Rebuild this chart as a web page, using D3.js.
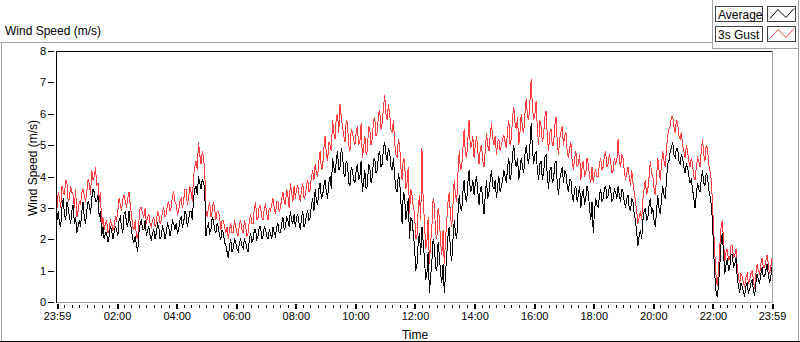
<!DOCTYPE html>
<html><head><meta charset="utf-8">
<script src="https://cdn.jsdelivr.net/npm/d3@7/dist/d3.min.js"></script>
<style>
html,body{margin:0;padding:0;background:#fff;}
svg{display:block;font-family:"Liberation Sans",Arial,sans-serif;}
</style></head>
<body><svg id="c" width="800" height="342"></svg>
<script>
// ---- data (2.5-minute samples from 23:59 to 23:59, one row per hour) ----
const seriesNames = ["Average", "3s Gust"];
const avgValues = [
 2.6,2.9,2.5,2.4,3.0,3.3,2.8,2.6,3.2,3.0,2.7,2.5,2.9,3.1,2.5,2.7,2.2,2.4,2.6,2.4,2.9,3.2,2.7,2.5,
 2.9,3.2,3.1,2.8,3.3,3.6,3.5,3.2,3.2,3.4,2.7,2.9,2.1,2.4,2.0,2.2,2.2,1.9,2.1,2.4,2.3,2.0,2.2,2.4,
 2.3,2.1,2.6,2.7,2.4,2.2,2.8,2.9,2.5,2.4,2.9,2.5,2.3,2.0,1.9,2.1,1.8,1.6,2.2,2.5,2.6,2.3,2.3,2.6,
 2.1,2.3,2.4,2.1,2.0,2.2,2.3,2.0,2.2,2.5,2.4,2.0,2.1,2.4,2.3,2.0,2.2,2.5,2.4,2.1,2.3,2.6,2.5,2.3,
 2.5,2.2,2.3,2.6,2.7,2.4,2.5,2.9,2.8,2.4,2.6,2.9,2.9,2.6,3.3,3.6,3.7,3.4,4.0,3.8,3.6,3.9,3.8,3.6,
 2.1,2.4,2.5,2.2,2.3,2.7,2.6,2.3,2.2,2.5,2.4,2.1,2.0,2.3,2.2,1.9,1.8,1.6,1.4,1.8,2.0,1.6,1.7,2.0,
 1.9,1.7,1.6,1.9,2.0,1.8,1.7,2.0,1.9,1.7,1.6,2.0,2.2,1.9,2.0,2.3,2.3,2.0,2.1,2.4,2.4,2.0,2.1,2.4,
 2.3,2.1,2.0,2.3,2.2,2.0,2.4,2.2,2.1,2.4,2.5,2.2,2.2,2.5,2.7,2.3,2.4,2.7,2.6,2.4,2.9,2.6,2.5,2.8,
 2.4,2.7,2.8,2.5,2.3,2.7,2.9,2.4,2.5,2.8,2.9,2.6,2.7,3.1,3.3,2.9,3.6,3.2,3.1,3.6,3.8,3.3,3.4,3.7,
 3.9,3.5,3.3,3.8,4.0,3.6,4.6,4.3,4.1,4.5,4.8,4.2,4.3,4.9,4.7,4.1,4.0,4.5,4.4,3.8,3.7,4.3,4.2,3.9,
 3.8,4.2,4.4,3.9,4.0,4.5,3.5,3.8,4.2,3.6,3.7,4.4,4.3,3.8,4.0,4.5,4.6,4.1,4.2,4.7,4.8,4.3,4.4,4.9,
 5.1,4.7,4.5,4.9,4.8,4.3,4.2,4.6,4.0,3.6,3.5,4.1,3.9,3.2,2.5,3.5,3.4,2.6,2.9,3.3,2.0,2.7,2.6,2.2,
 1.8,1.0,1.2,1.9,2.2,1.5,2.4,1.9,1.4,0.7,0.9,1.6,0.3,0.8,1.3,2.0,1.8,1.1,1.0,1.9,1.5,0.9,0.6,1.2,
 0.3,0.9,1.5,2.1,2.4,1.6,1.3,2.0,2.6,2.2,2.0,2.8,3.4,3.0,2.9,3.5,3.9,3.3,3.2,3.8,4.2,3.5,3.6,3.9,
 3.4,3.8,4.0,3.5,3.1,3.6,3.7,3.2,2.8,3.4,3.9,3.3,3.5,3.9,4.2,3.7,3.6,3.9,3.3,3.7,4.0,3.5,3.7,3.9,
 4.2,4.0,3.8,4.3,4.6,3.9,4.1,4.7,5.0,4.5,4.3,4.6,3.9,4.2,4.6,4.3,4.1,4.7,5.0,4.6,4.4,5.0,5.7,4.9,
 4.4,4.7,4.8,4.2,3.9,4.4,4.5,3.9,4.1,4.6,4.7,4.0,3.6,4.2,4.3,3.8,3.9,4.4,4.5,3.8,3.4,3.9,4.1,4.3,
 3.8,4.2,4.1,3.7,3.5,3.9,3.9,3.4,3.2,3.6,3.7,3.2,3.4,3.7,3.0,3.4,3.6,3.1,3.3,3.7,3.5,3.0,2.6,3.2,
 2.2,2.9,3.3,3.1,3.0,3.4,3.6,3.2,3.3,3.6,3.7,3.3,3.4,3.7,3.6,3.2,3.3,3.6,3.5,3.3,3.7,3.4,3.2,3.6,
 3.5,3.2,3.0,3.3,3.4,3.0,2.9,3.3,3.2,2.8,2.6,2.2,1.8,2.1,2.3,2.0,2.6,2.9,3.0,2.6,2.7,3.1,3.3,2.8,
 3.0,2.6,2.4,2.9,3.4,3.0,2.8,3.3,3.7,3.4,3.3,3.9,4.4,4.5,4.8,4.9,5.1,4.7,4.6,4.9,4.9,4.5,4.4,4.7,
 4.6,4.3,4.1,4.4,4.3,4.0,3.8,3.9,3.6,3.3,3.0,3.4,3.8,3.6,3.5,3.9,4.2,3.8,3.7,4.1,4.0,3.6,3.4,3.1,
 2.6,1.6,0.8,0.3,0.15,0.6,1.2,1.9,2.2,1.5,0.9,1.2,1.4,1.0,1.1,1.5,1.5,1.1,1.2,1.4,0.8,0.5,0.3,0.6,
 0.5,0.3,0.2,0.5,0.6,0.3,0.4,0.6,0.7,0.4,0.2,0.6,0.9,0.7,0.6,0.9,1.1,0.8,0.8,1.0,1.2,0.9,0.6,0.8,
 1.1
];
const gustValues = [
 3.0,3.5,3.3,3.0,3.7,3.5,3.4,3.9,3.8,3.2,3.3,3.7,3.5,3.4,3.0,3.6,2.7,2.9,3.2,3.1,3.5,3.6,3.4,3.2,
 3.5,3.9,3.8,3.4,4.2,3.9,4.0,4.3,3.7,3.8,3.2,3.5,2.4,2.7,2.3,2.5,2.6,2.2,2.3,2.6,2.5,2.3,2.4,2.7,
 2.6,2.9,3.3,3.1,2.9,3.3,3.4,3.2,3.0,3.3,3.5,3.1,2.8,2.4,2.3,2.6,2.1,2.0,2.6,3.0,3.0,2.8,2.7,3.0,
 2.5,2.7,2.8,2.5,2.4,2.6,2.7,2.4,2.5,2.9,2.8,2.5,2.6,2.9,3.0,2.7,2.8,3.1,3.2,2.9,3.0,3.4,3.5,3.2,
 3.1,2.8,2.9,3.2,3.3,3.0,3.2,3.6,3.6,3.1,3.3,3.7,3.5,3.2,4.0,4.3,4.5,4.2,5.1,4.7,4.4,4.8,4.6,4.2,
 2.9,2.7,3.0,3.2,2.7,2.9,3.2,3.0,2.6,2.9,2.9,2.7,2.3,2.6,2.6,2.4,2.2,2.4,2.0,2.3,2.5,2.2,2.2,2.6,
 2.4,2.2,2.1,2.5,2.6,2.3,2.2,2.6,2.4,2.1,2.2,2.6,2.8,2.5,2.5,3.0,3.2,2.6,2.7,3.1,3.0,2.7,2.6,3.0,
 3.1,2.8,2.6,3.0,2.9,3.1,3.3,3.0,2.8,3.2,3.2,2.9,3.0,3.3,3.5,3.2,3.1,3.6,3.4,3.0,3.8,3.5,3.2,3.7,
 3.3,3.6,3.7,3.4,3.2,3.6,3.8,3.3,3.4,3.7,3.9,3.5,3.6,4.0,4.2,3.9,4.4,4.1,4.0,4.5,4.8,4.2,4.3,4.9,
 5.3,4.7,4.5,5.1,5.0,4.8,5.8,5.4,5.2,5.9,6.0,5.4,6.3,5.9,5.6,5.3,5.1,5.8,5.7,5.0,4.8,5.5,5.4,5.2,
 5.0,5.4,5.6,5.0,5.1,5.7,4.6,4.9,5.3,4.7,4.8,5.6,5.5,5.0,5.2,5.8,5.9,5.3,5.4,6.0,6.1,5.5,5.7,6.2,
 6.6,6.0,5.8,6.3,6.0,5.5,5.4,5.8,5.1,4.7,4.6,5.2,5.0,4.3,3.9,4.6,4.5,3.6,3.8,4.3,2.8,3.6,3.4,3.0,
 2.9,2.0,2.1,3.0,3.4,2.6,4.9,3.2,2.6,1.7,1.9,2.7,1.2,1.9,2.4,3.3,3.1,2.2,2.0,3.0,2.7,1.9,1.5,2.3,
 1.2,2.0,2.6,3.2,3.5,2.7,2.4,3.1,3.9,3.4,3.2,4.1,4.8,4.2,4.3,4.9,5.5,4.7,4.6,5.2,5.8,4.9,5.0,5.3,
 4.6,5.0,5.3,4.8,4.4,4.9,5.0,4.5,4.3,4.8,5.4,5.0,4.8,5.3,5.7,5.2,5.0,5.3,4.7,5.1,5.2,4.8,5.0,5.2,
 5.3,5.1,4.9,5.5,5.8,5.0,5.2,5.9,6.2,5.7,5.5,5.9,5.0,5.4,6.0,5.5,5.4,6.0,6.5,5.9,5.8,6.4,7.1,6.2,
 5.8,6.0,6.4,5.5,5.0,5.8,5.6,5.1,5.3,5.9,6.1,5.3,4.8,5.4,5.5,5.0,5.0,5.6,5.9,5.1,4.7,5.2,5.4,5.6,
 5.0,5.3,5.4,4.8,4.6,4.9,5.1,4.5,4.2,4.6,4.8,4.3,4.4,4.7,3.9,4.3,4.5,4.0,4.1,4.6,4.4,4.0,3.8,4.3,
 3.8,4.1,4.2,4.0,4.0,4.4,4.6,4.2,4.3,4.7,4.8,4.3,4.4,4.7,4.5,4.1,4.2,4.6,4.4,4.5,5.2,4.5,4.3,4.7,
 4.6,4.2,3.9,4.1,4.3,4.0,3.7,4.2,3.8,3.5,3.2,2.9,2.5,2.7,2.9,2.6,3.3,3.6,3.9,3.4,3.6,4.0,4.5,4.1,
 4.0,3.6,3.4,4.0,4.6,4.2,3.9,4.4,4.8,4.5,4.3,4.9,5.3,5.5,5.6,5.9,5.9,5.6,5.4,5.8,5.7,5.3,5.2,5.4,
 5.0,4.8,4.6,5.0,4.8,4.5,4.3,4.6,4.4,4.0,3.9,4.3,4.6,4.5,4.3,4.8,5.2,4.7,4.5,5.0,4.9,4.4,4.2,3.9,
 3.2,2.3,1.5,0.8,0.5,1.1,1.8,2.4,2.6,1.9,1.3,1.6,1.7,1.3,1.4,1.8,1.8,1.4,1.5,1.7,1.1,0.8,0.6,0.9,
 0.8,0.6,0.5,0.8,0.9,0.6,0.7,0.9,1.0,0.7,0.4,0.9,1.2,1.0,0.9,1.2,1.4,1.1,1.1,1.3,1.5,1.2,0.9,1.1,
 1.4
];
const sampleStepMin = 2.5;      // minutes between samples
const startMinute = -1;         // 23:59 of previous day
const endMinute = 1439;         // 23:59
const majorTickMinutes = [-1,120,240,360,480,600,720,840,960,1080,1200,1320,1439];
const majorTickLabels = ["23:59","02:00","04:00","06:00","08:00","10:00","12:00","14:00","16:00","18:00","20:00","22:00","23:59"];
const yTicks = [0,1,2,3,4,5,6,7,8];
const chartTitle = "Wind Speed (m/s)";
const xTitle = "Time";
const yTitle = "Wind Speed (m/s)";

// ---- layout ----
const svg = d3.select("#c");
const L = 57, R = 772, T = 51, B = 302;
const x = d3.scaleLinear().domain([startMinute, endMinute]).range([L, R]);
const y = d3.scaleLinear().domain([0, 8]).range([B, T]);

// outer frame
svg.append("line").attr("x1",0).attr("x2",712).attr("y1",42.5).attr("y2",42.5).attr("stroke","#a0a0a0");
svg.append("line").attr("x1",1.5).attr("x2",1.5).attr("y1",42).attr("y2",342).attr("stroke","#a0a0a0");
svg.append("line").attr("x1",798.5).attr("x2",798.5).attr("y1",48).attr("y2",342).attr("stroke","#a0a0a0");
svg.append("line").attr("x1",0).attr("x2",800).attr("y1",341.5).attr("y2",341.5).attr("stroke","#000");

svg.append("text").attr("x",5).attr("y",35).attr("font-size",12).attr("fill","#000").text(chartTitle);

svg.append("rect").attr("x",L).attr("y",T).attr("width",R-L).attr("height",B-T).attr("fill","#fff");

const n = Math.min(avgValues.length, gustValues.length);
const avgData = avgValues.slice(0,n).map((v,i)=>({t:startMinute+i*sampleStepMin, v}));
const gustData = gustValues.slice(0,n).map((v,i)=>({t:startMinute+i*sampleStepMin, v}));
const line = d3.line().x(d=>x(d.t)).y(d=>y(d.v));

const plot = svg.append("g");
plot.append("path").datum(gustData).attr("d",line).attr("fill","none").attr("stroke","#ff4040").attr("stroke-width",1).attr("shape-rendering","crispEdges");
plot.append("path").datum(avgData).attr("d",line).attr("fill","none").attr("stroke","#000").attr("stroke-width",1).attr("shape-rendering","crispEdges");

// plot borders: top & left dark, right & bottom gray
svg.append("line").attr("x1",L).attr("x2",R).attr("y1",T+0.5).attr("y2",T+0.5).attr("stroke","#000");
svg.append("line").attr("x1",R+0.5).attr("x2",R+0.5).attr("y1",T).attr("y2",B+1).attr("stroke","#a0a0a0");
svg.append("line").attr("x1",L).attr("x2",R+1).attr("y1",B+0.5).attr("y2",B+0.5).attr("stroke","#a0a0a0");
svg.append("line").attr("x1",L-0.5).attr("x2",L-0.5).attr("y1",T).attr("y2",B+1).attr("stroke","#000");

// y axis
const yAxis = d3.axisLeft(y).tickValues(yTicks).tickFormat(d3.format("d")).tickSize(6).tickPadding(2);
const gy = svg.append("g").attr("transform",`translate(${L-3},0)`).call(yAxis);
gy.select(".domain").remove();
gy.selectAll("line").attr("stroke","#000").attr("shape-rendering","crispEdges");
gy.selectAll("text").attr("font-size",11).attr("fill","#000").attr("font-family","Liberation Sans, Arial, sans-serif");

// x axis minor ticks (every 15 min)
const minorTicks = d3.range(14, 1439, 15).filter(m=>!majorTickMinutes.includes(m));
const xMinor = d3.axisBottom(x).tickValues(minorTicks).tickFormat("").tickSize(3);
const gxm = svg.append("g").attr("transform",`translate(0,${B+3})`).call(xMinor);
gxm.select(".domain").remove();
gxm.selectAll("line").attr("stroke","#000").attr("shape-rendering","crispEdges");

const xMajor = d3.axisBottom(x).tickValues(majorTickMinutes).tickFormat((d,i)=>majorTickLabels[i]).tickSize(5).tickPadding(3);
const gx = svg.append("g").attr("transform",`translate(0,${B+2})`).call(xMajor);
gx.select(".domain").remove();
gx.selectAll("line").attr("stroke","#000").attr("stroke-width",2).attr("shape-rendering","crispEdges");
gx.selectAll("text").attr("font-size",11).attr("fill","#000").attr("font-family","Liberation Sans, Arial, sans-serif");

svg.append("text").attr("x",415).attr("y",339).attr("text-anchor","middle").attr("font-size",12).attr("fill","#000").text(xTitle);
svg.append("text").attr("transform","translate(37,168) rotate(-90)").attr("text-anchor","middle").attr("font-size",12).attr("fill","#000").text(yTitle);

// legend
const lg = svg.append("g");
lg.append("rect").attr("x",712.5).attr("y",-1).attr("width",86).attr("height",49.5).attr("fill","#fff").attr("stroke","#a0a0a0");
const colors = ["#000","#ff4040"];
seriesNames.forEach((name,i)=>{
  const y0 = 6.5 + i*20;
  lg.append("rect").attr("x",715.5).attr("y",y0).attr("width",47).attr("height",15).attr("fill","#fff").attr("stroke","#404040");
  lg.append("text").attr("x",718).attr("y",y0+12).attr("font-size",12).attr("fill","#000").text(name);
  lg.append("rect").attr("x",767.5).attr("y",y0).attr("width",28).attr("height",15).attr("fill","#fff").attr("stroke","#404040");
  lg.append("path").attr("d",`M770,${y0+12} L778,${y0+3} L786,${y0+11} L794,${y0+2}`).attr("fill","none").attr("stroke",colors[i]);
});
</script></body></html>
